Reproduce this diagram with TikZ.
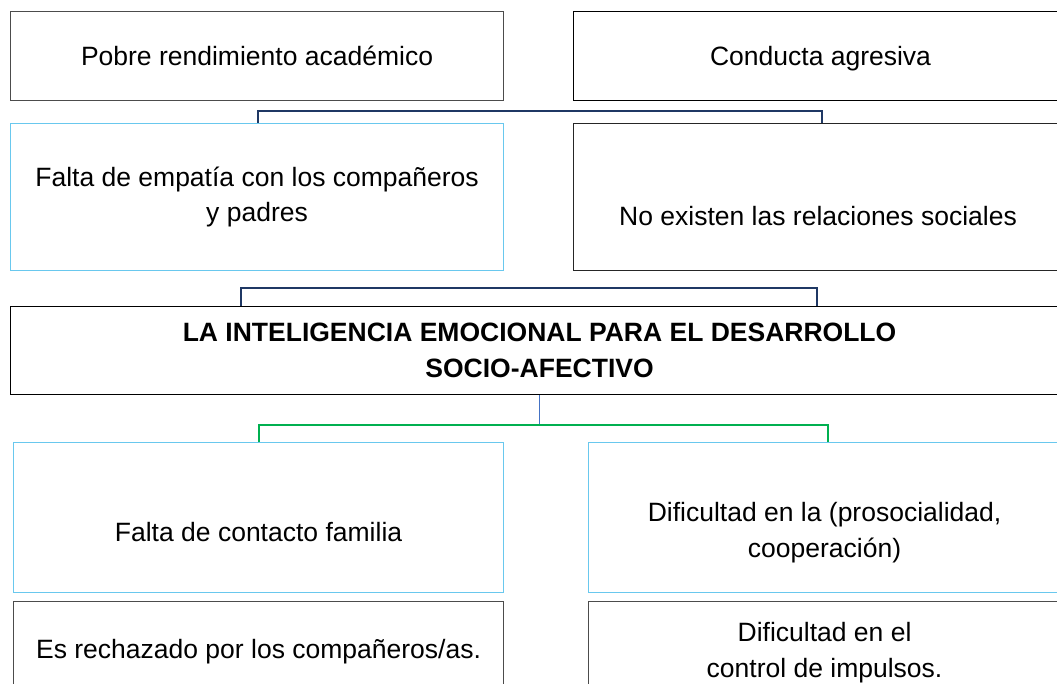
\documentclass[tikz,border=0pt]{standalone}
\usepackage{fontspec}
\setmainfont{Liberation Sans}
\usetikzlibrary{calc}
\definecolor{celeste}{RGB}{105,200,238}
\definecolor{marino}{RGB}{31,56,100}
\definecolor{verde}{RGB}{0,176,80}
\definecolor{azul}{RGB}{68,114,196}
\tikzset{
  caja/.style={draw=black!70, line width=1.1pt, rectangle, anchor=north west, align=center, inner sep=0pt},
  cajaazul/.style={caja, draw=celeste},
  texto/.style={align=center, inner sep=0pt},
  navyln/.style={draw=marino, line width=2pt},
  greenln/.style={draw=verde, line width=2pt},
  blueln/.style={draw=azul, line width=1.4pt}
}
\begin{document}
\begin{tikzpicture}[x=1pt, y=-1pt, font=\fontsize{26.5pt}{35.5pt}\selectfont]
			%%%%% START %%%%%
			\useasboundingbox (0,0) rectangle (1057,684);
			\clip (0,0) rectangle (1057,684);
			\fill[white] (0,0) rectangle (1057,684);
			
			% fila 1
			\node[caja, minimum width=493pt, minimum height=89pt] (pobre) at (10,11) {Pobre rendimiento académico};
			\node[caja, draw=black, minimum width=494pt, minimum height=89pt, text depth=0pt] (agresiva) at (573,11) {Conducta agresiva};
			
			% fila 2
			\node[cajaazul, minimum width=493pt, minimum height=147pt] (empatia) at (10,123) {Falta de empatía con los compañeros\\y padres};
			\node[caja, draw=black!85, minimum width=489pt, minimum height=147pt] (relaciones) at (573,123) {};
			\node[texto] (trelaciones) at ([yshift=-19pt]relaciones.center) {No existen las relaciones sociales};
			
			% tema central
			\node[caja, draw=black, minimum width=1058pt, minimum height=88pt] (tema) at (10,306) {\bfseries LA INTELIGENCIA EMOCIONAL PARA EL DESARROLLO\\\bfseries SOCIO-AFECTIVO};
			
			% fila 3
			\node[cajaazul, minimum width=490pt, minimum height=150pt] (familia) at (13,442) {};
			\node[texto] (tfamilia) at ([yshift=-14pt]familia.center) {Falta de contacto familia};
			\node[cajaazul, minimum width=472pt, minimum height=150pt] (prosocial) at (588,442) {};
			\node[texto] (tprosocial) at ([yshift=-15pt]prosocial.center) {Dificultad en la (prosocialidad,\\cooperación)};
			
			% fila 4
			\node[caja, minimum width=490pt, minimum height=100pt] (rechazo) at (13,601) {Es rechazado por los compañeros/as.};
			\node[caja, minimum width=472pt, minimum height=102pt] (impulsos) at (588,601) {Dificultad en el\\control de impulsos.};
			
			% conectores
			\coordinate (n1a) at (258,123);
			\coordinate (n1b) at (822,123);
			\draw[navyln] (n1a) -- ++(0,-12) -| (n1b);
			
			\coordinate (n2a) at (241,306);
			\coordinate (n2b) at (817,306);
			\draw[navyln] (n2a) -- ++(0,-18) -| (n2b);
			
			\coordinate (gm) at (tema.south |- 0,425);
			\draw[blueln] (tema.south) -- (gm);
			\coordinate (g1) at (259,442);
			\coordinate (g2) at (828,442);
			\draw[greenln] (g1) |- (gm) -| (g2);
			
			%%%%% END %%%%%
\end{tikzpicture}
\end{document}
